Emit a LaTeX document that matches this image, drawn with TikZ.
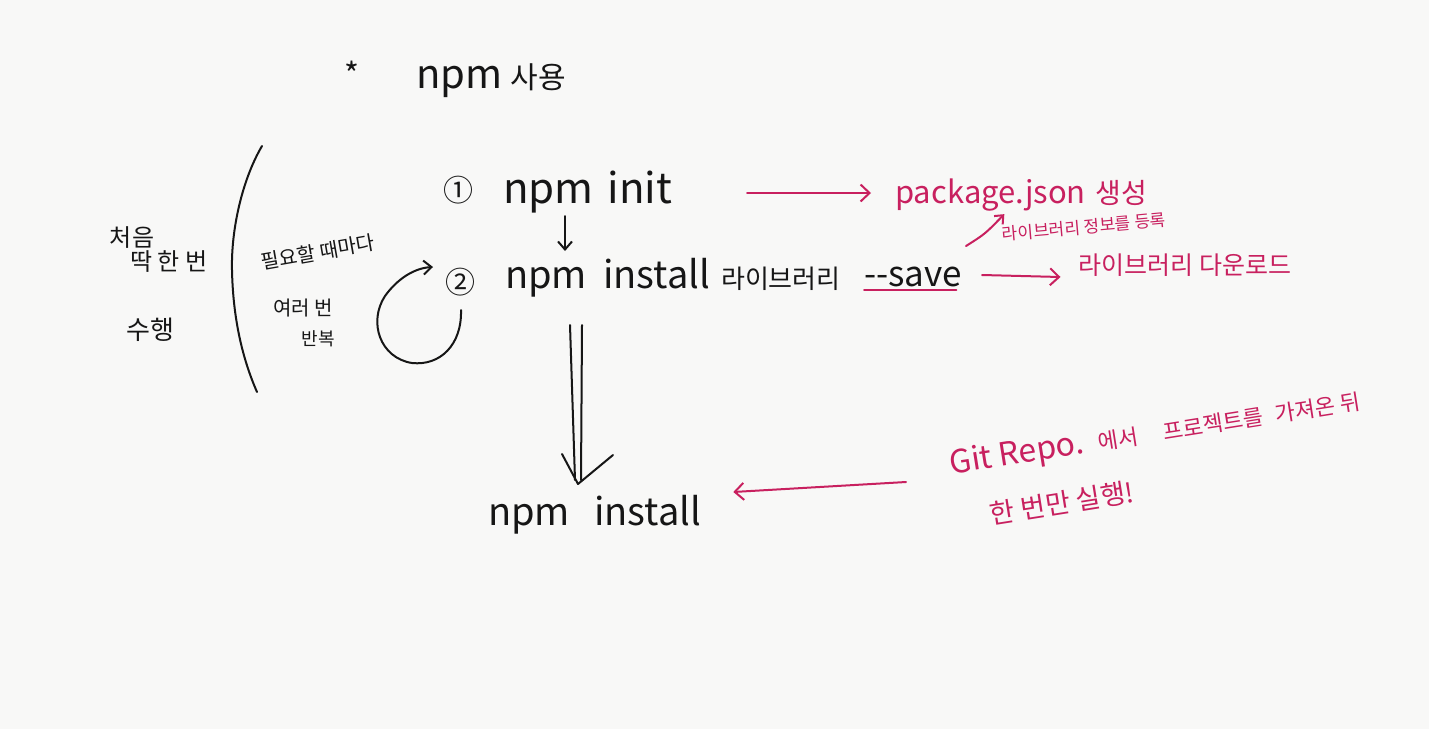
\documentclass[tikz,border=0pt]{standalone}
\usepackage{fontspec}
\setmainfont{Noto Sans CJK KR}
\usetikzlibrary{arrows.meta}
\definecolor{ink}{HTML}{161616}
\definecolor{pen}{HTML}{C8205F}
\definecolor{paper}{HTML}{F8F8F7}
\newcommand{\fs}[1]{\fontsize{#1}{#1}\selectfont}
\tikzset{
  hand/.style={text=ink, inner sep=0pt},
  redtxt/.style={text=pen, inner sep=0pt},
  inkline/.style={draw=ink, line width=2pt, line cap=round, line join=round},
  redline/.style={draw=pen, line width=2pt, line cap=round, line join=round},
  barb/.style={-{Straight Barb[length=9pt,width=17pt,line width=2pt]}},
  smallbarb/.style={-{Straight Barb[length=8pt,width=14pt,line width=2pt]}},
}
\begin{document}
\begin{tikzpicture}[x=1pt,y=-1pt]
\fill[paper] (0,0) rectangle (1429,729);
\useasboundingbox (0,0) rectangle (1429,729);

% title
\node[hand] (star) at (352,74) {\fs{32}*};
\node[hand, anchor=base west] (title) at (416,88) {\fs{40}npm\hspace{8pt}\fs{30}사용};

% left notes
\node[hand] (l1) at (132,238) {\fs{24}처음};
\node[hand] (l2) at (169,262) {\fs{24}딱 한 번};
\node[hand] (l3) at (150,330) {\fs{26}수행};

% bracket
\draw[inkline] (262,146) .. controls (242,180) and (231,230) .. (232,270)
  .. controls (233,320) and (243,360) .. (257,392);

\node[hand, rotate=10] (m1) at (318,252) {\fs{20}필요할 때마다};
\node[hand] (m2) at (303,308) {\fs{20}여러 번};
\node[hand] (m3) at (318,339) {\fs{18}반복};

% step 1
\node[hand] (c1) at (458,190) {\fs{30}①};
\node[hand, anchor=base west] (init) at (503,203) {\fs{42}npm\hspace{14pt}init};
\coordinate (d1) at (565,216);
\coordinate (d2) at (565,251);
\draw[inkline, smallbarb] (d1) -- (d2);

% step 2
\node[hand] (c2) at (460,282) {\fs{30}②};
\node[hand, anchor=base west] (inst) at (505,288) {\fs{38}npm\hspace{16pt}install\hspace{11pt}\fs{26}라이브러리};
\node[hand, anchor=base west] (save) at (864,286) {\fs{35}-{}-save};
\draw[redline] ([yshift=-3pt]save.south west) -- ([yshift=-3pt,xshift=-6pt]save.south east);

% loop arrow
\coordinate (lp1) at (461,310);
\coordinate (lp2) at (433,267);
\draw[inkline, smallbarb]
  (lp1) .. controls (462,345) and (440,366) .. (412,363)
  .. controls (380,358) and (368,322) .. (385,296)
  .. controls (398,278) and (415,268) .. (lp2);

% double arrow down
\node[hand, anchor=base west] (final) at (488,525) {\fs{38}npm\hspace{24pt}install};
\coordinate (da) at (576,325);
\coordinate (db) at (578,484);
\draw[inkline] ([xshift=-6pt]da) -- ([xshift=-3pt,yshift=4pt]db);
\draw[inkline] ([xshift=6pt]da) -- ([xshift=3pt,yshift=4pt]db);
\draw[inkline] (562,454) -- (db) -- (613,455);

% red annotations
\node[redtxt, anchor=base west] (pkg) at (895,203) {\fs{31}package.json\hspace{10pt}\fs{28}생성};
\coordinate (r1s) at (747,193);
\draw[redline, barb] (r1s) -- ([xshift=-24pt]pkg.west |- r1s);

\node[redtxt, rotate=5] (reg) at (1084,227) {\fs{17}라이브러리 정보를 등록};
\coordinate (r2s) at (966,246);
\draw[redline, -{Straight Barb[length=7pt,width=12pt,line width=2pt]}]
  (r2s) .. controls (985,234) .. ([xshift=-79pt,yshift=5pt]reg.north);

\node[redtxt] (dl) at (1185,265) {\fs{25}라이브러리 다운로드};
\coordinate (r3s) at (982,275);
\draw[redline, barb] (r3s) -- ([xshift=-18pt]dl.west |- 0,277);

\node[redtxt, rotate=9] (git) at (1155,433) {\fs{32}Git Repo.\hspace{14pt}\fs{22}에서\hspace{26pt}프로젝트를\hspace{12pt}가져온 뒤};
\node[redtxt, rotate=9] (once) at (1062,503) {\fs{27}한 번만 실행!};
\coordinate (r4s) at (906,482);
\draw[redline, barb] (r4s) -- ([xshift=32pt]final.east |- 0,492);
\end{tikzpicture}
\end{document}
